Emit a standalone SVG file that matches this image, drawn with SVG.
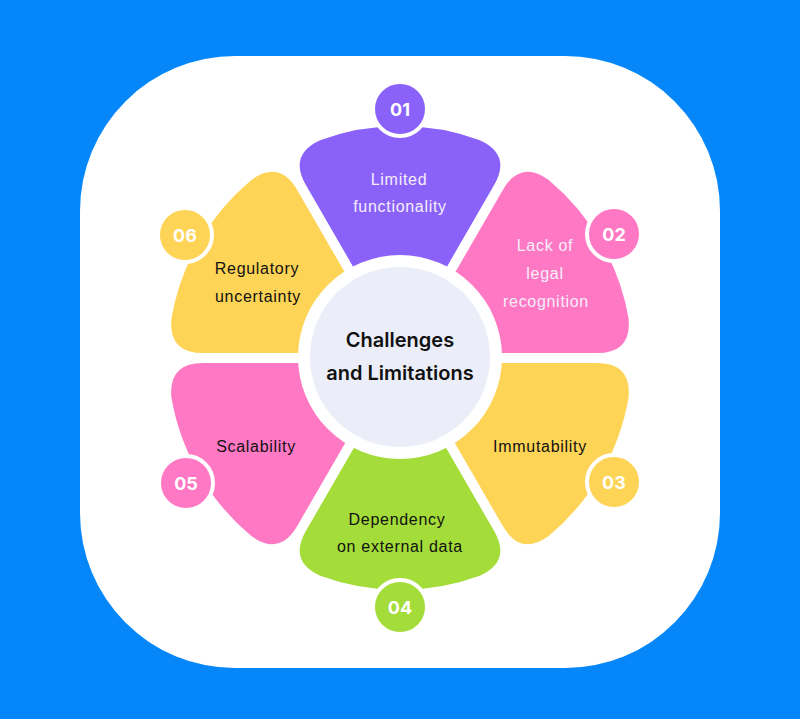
<svg xmlns="http://www.w3.org/2000/svg" xmlns:xlink="http://www.w3.org/1999/xlink" width="800" height="719" viewBox="0 0 800 719">
<style>
.lbl{font-family:"Liberation Sans",Arial,sans-serif;font-size:16px;letter-spacing:0.7px;text-anchor:middle;fill:#111111}
.lbl.light{fill:#F5EEF9}
.num{font-family:Inter,"Noto Sans",sans-serif;font-size:18px;font-weight:700;text-anchor:middle;fill:#FFFFFF}
.badge{stroke:#FFFFFF;stroke-width:4}
.title{font-family:Inter,"Noto Sans",sans-serif;font-size:20px;font-weight:600;text-anchor:middle;fill:#111111}
.purple{fill:#8A62FA}
.pink{fill:#FF78C4}
.yellow{fill:#FED456}
.green{fill:#A4DC3A}
</style>
<defs>
<path id="petal" d="M15.67,-37.14 L94.14,-173.06 Q111.64,-203.37 79.85,-217.8 A232,232 0 0 0 -79.85,-217.8 Q-111.64,-203.37 -94.14,-173.06 L-15.67,-37.14 Z"/>
</defs>
<rect x="0" y="0" width="800" height="719" fill="#0587FA"/>
<rect x="80" y="56" width="640" height="612" rx="155" ry="155" fill="#FFFFFF"/>
<g id="connectors"></g>
<g id="node-01">
<use xlink:href="#petal" class="purple" transform="translate(400,358) rotate(0)"/>
<circle class="purple badge" cx="400" cy="109" r="27"/>
<text class="num" x="400" y="115.5">01</text>
<text class="lbl light" x="399" y="185">Limited</text>
<text class="lbl light" x="400" y="212">functionality</text>
</g>
<g id="node-02">
<use xlink:href="#petal" class="pink" transform="translate(400,358) rotate(60)"/>
<circle class="pink badge" cx="614" cy="234" r="27"/>
<text class="num" x="614" y="240.5">02</text>
<text class="lbl light" x="545" y="251">Lack of</text>
<text class="lbl light" x="545" y="279">legal</text>
<text class="lbl light" x="546" y="307">recognition</text>
</g>
<g id="node-03">
<use xlink:href="#petal" class="yellow" transform="translate(400,358) rotate(120)"/>
<circle class="yellow badge" cx="614" cy="482" r="27"/>
<text class="num" x="614" y="488.5">03</text>
<text class="lbl" x="540" y="452">Immutability</text>
</g>
<g id="node-04">
<use xlink:href="#petal" class="green" transform="translate(400,358) rotate(180)"/>
<circle class="green badge" cx="400" cy="607" r="27"/>
<text class="num" x="400" y="613.5">04</text>
<text class="lbl" x="397" y="525">Dependency</text>
<text class="lbl" x="400" y="552">on external data</text>
</g>
<g id="node-05">
<use xlink:href="#petal" class="pink" transform="translate(400,358) rotate(240)"/>
<circle class="pink badge" cx="186" cy="483" r="27"/>
<text class="num" x="186" y="489.5">05</text>
<text class="lbl" x="256" y="452">Scalability</text>
</g>
<g id="node-06">
<use xlink:href="#petal" class="yellow" transform="translate(400,358) rotate(300)"/>
<circle class="yellow badge" cx="185" cy="235" r="27"/>
<text class="num" x="185" y="241.5">06</text>
<text class="lbl" x="257" y="274">Regulatory</text>
<text class="lbl" x="258" y="302">uncertainty</text>
</g>
<g id="center">
<circle cx="400" cy="357" r="102" fill="#FFFFFF"/>
<circle cx="400" cy="357" r="90" fill="#EBEEF8"/>
<text class="title" x="400" y="347">Challenges</text>
<text class="title" x="400" y="380">and Limitations</text>
</g>
</svg>
